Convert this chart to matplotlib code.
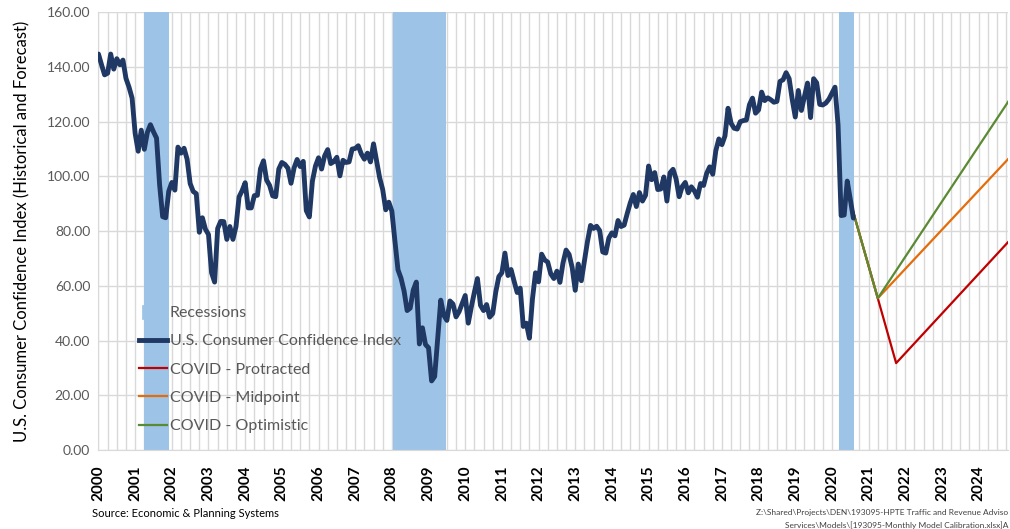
import numpy as np
import matplotlib
matplotlib.use('Agg')
import matplotlib.pyplot as plt
from matplotlib.lines import Line2D
from matplotlib.patches import Patch, Rectangle
from matplotlib.legend_handler import HandlerPatch

# Monthly U.S. Consumer Confidence Index, Jan 2000 - Aug 2020
start_year = 2000
cci_values = [
    144.7, 140.8, 137.1, 137.7, 144.7, 139.2, 143.0, 140.8, 142.5, 135.8, 132.6, 128.6,  # 2000
    115.7, 109.2, 116.9, 109.9, 116.1, 118.9, 116.3, 114.0, 97.0, 85.3, 84.9, 94.6,      # 2001
    97.8, 95.0, 110.7, 108.5, 110.3, 106.3, 97.4, 94.5, 93.7, 79.6, 84.9, 80.7,          # 2002
    78.8, 64.8, 61.4, 81.0, 83.6, 83.5, 77.0, 81.7, 77.0, 81.7, 92.5, 94.8,              # 2003
    97.7, 88.5, 88.5, 93.0, 93.1, 102.8, 105.7, 98.7, 96.7, 92.9, 92.6, 102.7,           # 2004
    105.1, 104.4, 103.0, 97.5, 103.1, 106.2, 103.6, 105.5, 87.5, 85.2, 98.3, 103.8,      # 2005
    106.8, 102.7, 107.5, 109.8, 104.7, 105.4, 107.0, 100.2, 105.9, 105.1, 105.3, 110.0,  # 2006
    110.2, 111.2, 108.2, 106.3, 108.5, 105.3, 111.9, 105.6, 99.5, 95.2, 87.8, 90.6,      # 2007
    87.3, 76.4, 65.9, 62.8, 58.1, 51.0, 51.9, 58.5, 61.4, 38.8, 44.7, 38.6,              # 2008
    37.4, 25.3, 26.9, 40.8, 54.8, 49.3, 47.4, 54.5, 53.4, 48.7, 50.6, 53.6,              # 2009
    56.5, 46.4, 52.3, 57.7, 62.7, 52.9, 51.0, 53.2, 48.6, 49.9, 57.8, 63.4,              # 2010
    64.8, 72.0, 63.8, 66.0, 61.7, 57.6, 59.2, 45.2, 46.4, 40.9, 55.2, 64.8,              # 2011
    61.5, 71.6, 69.5, 68.7, 64.4, 62.7, 65.4, 61.3, 68.4, 73.1, 71.5, 66.7,              # 2012
    58.4, 68.0, 61.9, 69.0, 76.2, 82.1, 81.0, 81.8, 80.2, 72.4, 72.0, 77.5,              # 2013
    79.4, 78.3, 83.9, 81.7, 82.2, 86.4, 90.3, 93.4, 89.0, 94.1, 91.0, 93.1,              # 2014
    103.8, 98.8, 101.4, 95.2, 95.4, 99.8, 91.0, 101.3, 102.6, 99.1, 92.6, 96.3,          # 2015
    97.8, 94.0, 96.2, 94.7, 92.4, 97.4, 96.7, 101.1, 103.5, 100.8, 109.4, 113.7,         # 2016
    111.6, 114.8, 124.9, 119.4, 117.6, 117.3, 120.0, 120.4, 120.6, 126.2, 128.6, 123.1,  # 2017
    124.3, 130.8, 127.7, 128.7, 128.0, 127.1, 127.4, 134.7, 135.3, 137.9, 135.7, 128.1,  # 2018
    121.7, 131.4, 124.1, 129.2, 134.1, 121.5, 135.7, 134.2, 126.3, 126.1, 126.8, 128.2,  # 2019
    130.4, 132.6, 118.8, 85.7, 85.9, 98.3, 91.7, 84.8,                                   # 2020
]

# Recession periods (start, end) in decimal years
recessions = [(2001.23, 2001.92), (2008.02, 2009.47), (2020.2, 2020.6)]

# COVID forecast scenarios (decimal year, value)
protracted_x = [2020.58, 2021.25, 2021.75, 2024.92]
protracted_y = [87.0, 55.5, 31.8, 77.7]
midpoint_x = [2020.58, 2021.25, 2024.92]
midpoint_y = [87.0, 55.5, 108.0]
optimistic_x = [2020.58, 2021.25, 2024.92]
optimistic_y = [87.0, 55.5, 129.6]

years = list(range(2000, 2025))

cci_x = start_year + np.arange(len(cci_values)) / 12.0

plt.rcParams['font.family'] = ['Lato', 'DejaVu Sans']

fig = plt.figure(figsize=(10.10, 5.29), dpi=100)
ax = fig.add_axes([0.0975, 0.149, 0.9005, 0.828])

blue_fill = '#9dc3e6'
for r0, r1 in recessions:
    ax.axvspan(r0, r1, color=blue_fill, lw=0, zorder=1)

ax.plot(cci_x, cci_values, color='#1f3864', lw=3.5, solid_joinstyle='round',
        solid_capstyle='round', zorder=3)
ax.plot(protracted_x, protracted_y, color='#c00000', lw=1.6, zorder=2)
ax.plot(midpoint_x, midpoint_y, color='#e46c0a', lw=1.6, zorder=2)
ax.plot(optimistic_x, optimistic_y, color='#5a8a32', lw=1.6, zorder=2)

ax.set_xlim(2000, 2024.8)
ax.set_ylim(0, 160)
ax.set_yticks(np.arange(0, 161, 20))
ax.set_yticklabels(['%.2f' % v for v in np.arange(0, 161, 20)], color='#595959', fontsize=10)
ax.set_xticks(years)
ax.set_xticklabels([str(y) for y in years], rotation=90, fontweight='bold', fontsize=11)
ax.set_xticks(np.arange(2000, 2025, 0.25), minor=True)
ax.tick_params(axis='both', which='both', length=0)
ax.tick_params(axis='x', pad=11)
ax.tick_params(axis='y', pad=6)

ax.grid(True, which='both', axis='x', color='#d9d9d9', lw=1, zorder=0)
ax.grid(True, which='major', axis='y', color='#d9d9d9', lw=1, zorder=0)
ax.set_axisbelow(True)
for s in ['top', 'right']:
    ax.spines[s].set_visible(False)
for s in ['left', 'bottom']:
    ax.spines[s].set_color('#d9d9d9')

ax.set_ylabel('U.S. Consumer Confidence Index (Historical and Forecast)', fontsize=12, labelpad=12)


def small_box(legend, orig_handle, xdescent, ydescent, width, height, fontsize):
    return Rectangle((-xdescent + 2, -ydescent - 1), 8, height + 2)


handles = [Patch(facecolor=blue_fill, edgecolor=blue_fill, lw=0.5),
           Line2D([], [], color='#1f3864', lw=3.5),
           Line2D([], [], color='#c00000', lw=1.6),
           Line2D([], [], color='#e46c0a', lw=1.6),
           Line2D([], [], color='#5a8a32', lw=1.6)]
labels = ['Recessions', 'U.S. Consumer Confidence Index', 'COVID - Protracted',
          'COVID - Midpoint', 'COVID - Optimistic']
leg = ax.legend(handles, labels, loc='upper left', bbox_to_anchor=(0.0285, 0.362),
                frameon=False, fontsize=11.5, labelspacing=0.88, handlelength=1.75,
                handletextpad=0.2, handler_map={Patch: HandlerPatch(patch_func=small_box)})
for t in leg.get_texts():
    t.set_color('#595959')

fig.text(0.091, 0.022, 'Source: Economic & Planning Systems', fontsize=8)
fig.text(0.998, 0.026, 'Z:\\Shared\\Projects\\DEN\\193095-HPTE Traffic and Revenue Adviso',
         fontsize=6.0, color='#404040', ha='right')
fig.text(0.998, 0.002, 'Services\\Models\\[193095-Monthly Model Calibration.xlsx]A',
         fontsize=6.0, color='#404040', ha='right')

fig.savefig('out.png', dpi=100)
